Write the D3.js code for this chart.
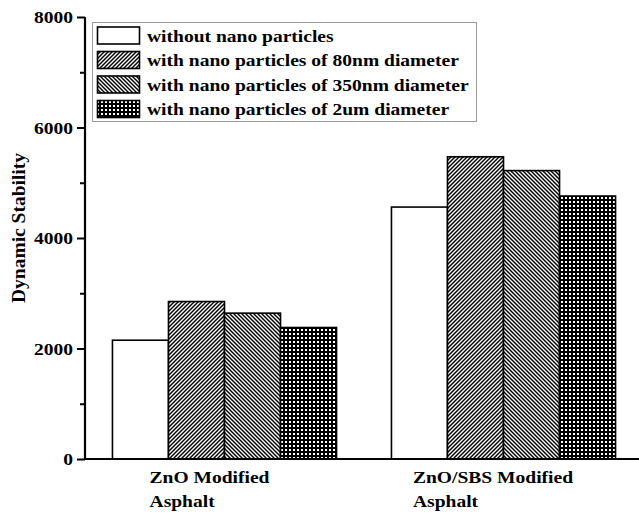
<!DOCTYPE html>
<html>
<head>
<meta charset="utf-8">
<script src="https://cdn.jsdelivr.net/npm/d3@7"></script>
<style>
  html, body { margin: 0; padding: 0; background: #fff; }
  svg text { font-family: "Liberation Serif", "Times New Roman", serif; font-weight: bold; fill: #000; }
</style>
</head>
<body>
<svg id="chart" width="639" height="513"></svg>
<script>
const categories = [["ZnO Modified", "Asphalt"], ["ZnO/SBS Modified", "Asphalt"]];
const categoryKeys = ["ZnO Modified Asphalt", "ZnO/SBS Modified Asphalt"];
const seriesNames = [
  "without nano particles",
  "with nano particles of 80nm diameter",
  "with nano particles of 350nm diameter",
  "with nano particles of 2um diameter"
];
const withoutNano = [2150, 4560];
const nano80 = [2850, 5470];
const nano350 = [2640, 5220];
const nano2um = [2380, 4760];
const seriesValues = [withoutNano, nano80, nano350, nano2um];
const yTicks = [0, 2000, 4000, 6000, 8000];
const yMinorTicks = [1000, 3000, 5000, 7000];
const yLabel = "Dynamic Stability";

const FS = 17.3, SX = 1.13;
const svg = d3.select("#chart");
const defs = svg.append("defs");

// patterns
const p1 = defs.append("pattern").attr("id", "pFwd").attr("patternUnits", "userSpaceOnUse")
  .attr("width", 4).attr("height", 4);
p1.append("rect").attr("width", 4).attr("height", 4).attr("fill", "#fff");
p1.append("path").attr("d", "M-1,1 L1,-1 M0,4 L4,0 M3,5 L5,3").attr("stroke", "#000").attr("stroke-width", 1.45);

const p2 = defs.append("pattern").attr("id", "pBack").attr("patternUnits", "userSpaceOnUse")
  .attr("width", 4).attr("height", 4);
p2.append("rect").attr("width", 4).attr("height", 4).attr("fill", "#fff");
p2.append("path").attr("d", "M-1,3 L1,5 M0,0 L4,4 M3,-1 L5,1").attr("stroke", "#000").attr("stroke-width", 1.45);

const p3 = defs.append("pattern").attr("id", "pDots").attr("patternUnits", "userSpaceOnUse")
  .attr("width", 4).attr("height", 4);
p3.append("rect").attr("width", 4).attr("height", 4).attr("fill", "#000");
p3.append("rect").attr("x", 1).attr("y", 1).attr("width", 2).attr("height", 2).attr("fill", "#fff");

const fills = ["#fff", "url(#pFwd)", "url(#pBack)", "url(#pDots)"];

const axisX = 85, x1 = 643, y0 = 459, yTop = 17;
const y = d3.scaleLinear().domain([0, 8000]).range([y0, yTop]);
const x = d3.scaleBand().domain(categoryKeys).range([axisX, x1]).padding(0);
const xs = d3.scaleBand().domain(d3.range(seriesNames.length)).range([0, x.bandwidth()])
  .paddingInner(0).paddingOuter(0.49);

function stext(px, py, str, anchor, dy) {
  return svg.append("text")
    .attr("transform", `translate(${px},${py}) scale(${SX},1)`)
    .attr("text-anchor", anchor || "start")
    .attr("dy", dy || 0)
    .style("font-size", FS + "px")
    .text(str);
}

// bars
categoryKeys.forEach((c, ci) => {
  seriesValues.forEach((vals, si) => {
    svg.append("rect")
      .attr("x", x(c) + xs(si))
      .attr("y", y(vals[ci]))
      .attr("width", xs.bandwidth())
      .attr("height", y(0) - y(vals[ci]))
      .attr("fill", fills[si])
      .attr("stroke", "#000")
      .attr("stroke-width", 1.6);
  });
});

// y axis
const yAxis = d3.axisLeft(y).tickValues(yTicks).tickSize(8).tickFormat("");
const gy = svg.append("g").attr("transform", `translate(${axisX},0)`).call(yAxis);
gy.select(".domain").remove();
gy.selectAll(".tick line").attr("stroke", "#000").attr("stroke-width", 2);
yTicks.forEach(t => stext(axisX - 12, y(t), d3.format("d")(t), "end", "0.35em"));
const gym = svg.append("g").attr("transform", `translate(${axisX},0)`)
  .call(d3.axisLeft(y).tickValues(yMinorTicks).tickSize(5).tickFormat(""));
gym.select(".domain").remove();
gym.selectAll(".tick line").attr("stroke", "#000").attr("stroke-width", 2);

svg.append("line").attr("x1", axisX).attr("x2", axisX).attr("y1", yTop).attr("y2", y0 + 1)
  .attr("stroke", "#000").attr("stroke-width", 2.2);
svg.append("line").attr("x1", axisX - 1).attr("x2", 639).attr("y1", y0).attr("y2", y0)
  .attr("stroke", "#000").attr("stroke-width", 2.2);

// x labels
const offsets = [-15, -10.5];
categoryKeys.forEach((c, ci) => {
  const cx = x(c) + x.bandwidth() / 2 + offsets[ci];
  const t1 = stext(cx, 483, categories[ci][0], "middle");
  const w = t1.node().getComputedTextLength() * SX;
  stext(cx - w / 2, 507, categories[ci][1], "start");
});

// y label
svg.append("text").attr("transform", "translate(25,228) rotate(-90)").attr("text-anchor", "middle")
  .style("font-size", "19.5px").text(yLabel);

// legend
svg.append("rect").attr("x", 92.5).attr("y", 22.5).attr("width", 384).attr("height", 99)
  .attr("fill", "#fff").attr("stroke", "#999").attr("stroke-width", 1);
const rowY = d3.scaleLinear().domain([0, 3]).range([35.5, 109]);
seriesNames.forEach((n, i) => {
  svg.append("rect").attr("x", 97.5).attr("y", rowY(i) - 8.5).attr("width", 42).attr("height", 17)
    .attr("fill", fills[i]).attr("stroke", "#000").attr("stroke-width", 1.6);
  stext(147, rowY(i), n, "start", "0.35em");
});
</script>
</body>
</html>
